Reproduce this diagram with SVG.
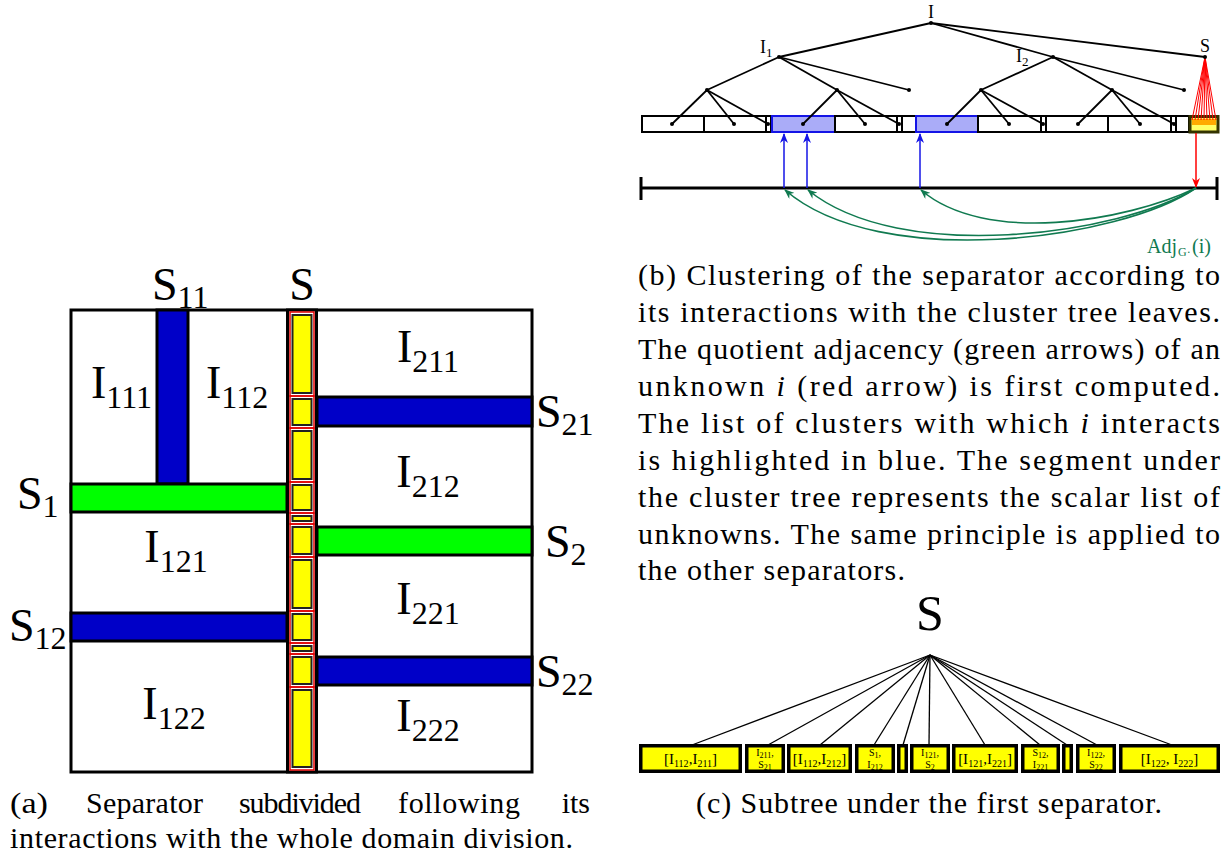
<svg xmlns="http://www.w3.org/2000/svg" width="1228" height="860" viewBox="0 0 1228 860">
<defs>
<style>
text{font-family:"Liberation Serif","Times New Roman",serif;fill:#000}
.big{font-size:46px}
.sub{font-size:32px}
.cap{font-size:30px}
.t{font-size:18px}
.ts{font-size:13px}
.e{stroke:#000;stroke-width:1.8;fill:none}
.leaf{fill:#fff;stroke:#000;stroke-width:2}
.bl{fill:#aaacf8;stroke:#1414e6;stroke-width:2}
.blue{fill:#0000c8;stroke:#000;stroke-width:3}
.green{fill:#00ff00;stroke:#000;stroke-width:3}
.seg{fill:none;stroke:#e00000;stroke-width:1.5}
.yl{fill:#ffff00;stroke:#222;stroke-width:2}
.cb{fill:#ffff00;stroke:#000;stroke-width:3.5}
.ct{font-size:15px}
.cts{font-size:10px}
.cs{font-size:10px}
.css{font-size:8px}
.gr{fill:none;stroke:#107a50;stroke-width:1.6}
.fan{stroke:#000;stroke-width:1.3}
.red{stroke:#ff0000;stroke-width:1}
.adj{fill:#107a50}
</style>
<marker id="mb" viewBox="0 0 10 8" refX="9" refY="4" markerWidth="10" markerHeight="8" markerUnits="userSpaceOnUse" orient="auto"><path d="M0,0 L10,4 L0,8 L3,4 z" fill="#1414e6"/></marker>
<marker id="mr" viewBox="0 0 10 8" refX="9" refY="4" markerWidth="10" markerHeight="8" markerUnits="userSpaceOnUse" orient="auto"><path d="M0,0 L10,4 L0,8 L3,4 z" fill="#ff0000"/></marker>
<marker id="mg" viewBox="0 0 10 8" refX="9" refY="4" markerWidth="10" markerHeight="8" markerUnits="userSpaceOnUse" orient="auto"><path d="M0,0 L10,4 L0,8 L3,4 z" fill="#107a50"/></marker>
</defs>
<rect width="1228" height="860" fill="#fff"/>

<!-- (a) domain division -->
<g id="domain">
<rect x="71" y="310" width="461" height="462" fill="#fff" stroke="#000" stroke-width="3"/>
<rect id="S11" class="blue" x="157" y="310" width="31" height="174"/>
<rect id="S1" class="green" x="71" y="484" width="216" height="28"/>
<rect id="S12" class="blue" x="71" y="613" width="216" height="28"/>
<rect id="S21" class="blue" x="317" y="397" width="215" height="29"/>
<rect id="S2" class="green" x="317" y="527" width="215" height="28"/>
<rect id="S22" class="blue" x="317" y="657" width="215" height="28"/>
</g>
<g id="separatorS">
<rect x="287.5" y="310" width="29" height="462" fill="#fff" stroke="#000" stroke-width="3"/>
<rect class="seg" x="290" y="312" width="24" height="84"/><rect class="yl" x="292.5" y="315" width="19" height="78"/>
<rect class="seg" x="290" y="396" width="24" height="32"/><rect class="yl" x="292.5" y="399" width="19" height="26"/>
<rect class="seg" x="290" y="428" width="24" height="54"/><rect class="yl" x="292.5" y="431" width="19" height="48"/>
<rect class="seg" x="290" y="482" width="24" height="31"/><rect class="yl" x="292.5" y="485" width="19" height="25"/>
<rect class="seg" x="290" y="513" width="24" height="11"/><rect class="yl" x="292.5" y="516" width="19" height="5"/>
<rect class="seg" x="290" y="524" width="24" height="33"/><rect class="yl" x="292.5" y="527" width="19" height="27"/>
<rect class="seg" x="290" y="557" width="24" height="54"/><rect class="yl" x="292.5" y="560" width="19" height="48"/>
<rect class="seg" x="290" y="611" width="24" height="32"/><rect class="yl" x="292.5" y="614" width="19" height="26"/>
<rect class="seg" x="290" y="643" width="24" height="11"/><rect class="yl" x="292.5" y="646" width="19" height="5"/>
<rect class="seg" x="290" y="654" width="24" height="33"/><rect class="yl" x="292.5" y="657" width="19" height="27"/>
<rect class="seg" x="290" y="687" width="24" height="83"/><rect class="yl" x="292.5" y="690" width="19" height="77"/>
</g>
<g id="labelsA">
<text class="big" x="152" y="300">S<tspan class="sub" dy="8">11</tspan></text>
<text class="big" x="302" y="300" text-anchor="middle">S</text>
<text class="big" x="91" y="398">I<tspan class="sub" dy="10">111</tspan></text>
<text class="big" x="206" y="398">I<tspan class="sub" dy="10">112</tspan></text>
<text class="big" x="428" y="362" text-anchor="middle">I<tspan class="sub" dy="10">211</tspan></text>
<text class="big" x="428" y="487" text-anchor="middle">I<tspan class="sub" dy="10">212</tspan></text>
<text class="big" x="176" y="562" text-anchor="middle">I<tspan class="sub" dy="10">121</tspan></text>
<text class="big" x="428" y="614" text-anchor="middle">I<tspan class="sub" dy="10">221</tspan></text>
<text class="big" x="174" y="719" text-anchor="middle">I<tspan class="sub" dy="10">122</tspan></text>
<text class="big" x="428" y="731" text-anchor="middle">I<tspan class="sub" dy="10">222</tspan></text>
<text class="big" x="536" y="427">S<tspan class="sub" dy="8">21</tspan></text>
<text class="big" x="545" y="557">S<tspan class="sub" dy="8">2</tspan></text>
<text class="big" x="536" y="687">S<tspan class="sub" dy="8">22</tspan></text>
<text class="big" x="17" y="509">S<tspan class="sub" dy="8">1</tspan></text>
<text class="big" x="9" y="641">S<tspan class="sub" dy="8">12</tspan></text>
</g>
<g id="captionA">
<text class="cap" x="10" y="813" textLength="38" lengthAdjust="spacingAndGlyphs">(a)</text>
<text class="cap" x="86" y="813" textLength="117" lengthAdjust="spacing">Separator</text>
<text class="cap" x="239" y="813" textLength="122" lengthAdjust="spacing">subdivided</text>
<text class="cap" x="398" y="813" textLength="122" lengthAdjust="spacing">following</text>
<text class="cap" x="590" y="813" text-anchor="end">its</text>
<text class="cap" x="10" y="848" textLength="563" lengthAdjust="spacing">interactions with the whole domain division.</text>
</g>

<!-- (b) cluster tree -->
<g id="treeEdges">
<line class="e" x1="931" y1="23" x2="779" y2="57"/>
<line class="e" x1="931" y1="23" x2="1053" y2="57"/>
<line class="e" x1="931" y1="23" x2="1205" y2="57"/>
<line class="e" x1="779" y1="57" x2="707" y2="90"/>
<line class="e" x1="779" y1="57" x2="837" y2="90"/>
<line class="e" x1="779" y1="57" x2="909" y2="90"/>
<line class="e" x1="1053" y1="57" x2="981" y2="90"/>
<line class="e" x1="1053" y1="57" x2="1112" y2="90"/>
<line class="e" x1="1053" y1="57" x2="1184" y2="90"/>
</g>
<g id="leafBar">
<rect class="leaf" x="642" y="116" width="62" height="16"/>
<rect class="leaf" x="704" y="116" width="62" height="16"/>
<rect class="leaf" x="766" y="116" width="5" height="16"/>
<rect class="bl" x="772" y="116" width="63" height="16"/>
<rect class="leaf" x="835" y="116" width="62" height="16"/>
<rect class="leaf" x="897" y="116" width="5" height="16"/>
<rect class="leaf" x="902" y="116" width="14" height="16"/>
<rect class="bl" x="916" y="116" width="62" height="16"/>
<rect class="leaf" x="978" y="116" width="63" height="16"/>
<rect class="leaf" x="1041" y="116" width="5" height="16"/>
<rect class="leaf" x="1046" y="116" width="62" height="16"/>
<rect class="leaf" x="1108" y="116" width="63" height="16"/>
<rect class="leaf" x="1171" y="116" width="5" height="16"/>
<rect class="leaf" x="1176" y="116" width="13" height="16"/>
<rect x="1190" y="116.5" width="28" height="15.5" fill="#ffff66" stroke="#333300" stroke-width="3"/>
<rect x="1192" y="119" width="24" height="6" fill="#ffaa00"/>
</g>
<g id="treeLeafEdges">
<line class="e" x1="707" y1="90" x2="672" y2="124"/>
<line class="e" x1="707" y1="90" x2="734" y2="124"/>
<line class="e" x1="707" y1="90" x2="768" y2="124"/>
<line class="e" x1="837" y1="90" x2="803" y2="124"/>
<line class="e" x1="837" y1="90" x2="865" y2="124"/>
<line class="e" x1="837" y1="90" x2="899" y2="124"/>
<line class="e" x1="981" y1="90" x2="947" y2="124"/>
<line class="e" x1="981" y1="90" x2="1009" y2="124"/>
<line class="e" x1="981" y1="90" x2="1043" y2="124"/>
<line class="e" x1="1112" y1="90" x2="1078" y2="124"/>
<line class="e" x1="1112" y1="90" x2="1140" y2="124"/>
<line class="e" x1="1112" y1="90" x2="1174" y2="124"/>
<line class="red" x1="1205" y1="57" x2="1192" y2="120"/>
<line class="red" x1="1205" y1="57" x2="1195" y2="120"/>
<line class="red" x1="1205" y1="57" x2="1198" y2="120"/>
<line class="red" x1="1205" y1="57" x2="1201" y2="120"/>
<line class="red" x1="1205" y1="57" x2="1204" y2="120"/>
<line class="red" x1="1205" y1="57" x2="1207" y2="120"/>
<line class="red" x1="1205" y1="57" x2="1210" y2="120"/>
<line class="red" x1="1205" y1="57" x2="1213" y2="120"/>
<line class="red" x1="1205" y1="57" x2="1216" y2="120"/>
</g>
<g id="treeNodes" fill="#000">
<circle cx="931" cy="23" r="2"/><circle cx="779" cy="57" r="2"/><circle cx="1053" cy="57" r="2"/><circle cx="1205" cy="57" r="2"/>
<circle cx="707" cy="90" r="2"/><circle cx="837" cy="90" r="2"/><circle cx="909" cy="90" r="2"/>
<circle cx="981" cy="90" r="2"/><circle cx="1112" cy="90" r="2"/><circle cx="1184" cy="90" r="2"/>
<circle cx="672" cy="124" r="2"/><circle cx="734" cy="124" r="2"/><circle cx="768" cy="124" r="2"/>
<circle cx="803" cy="124" r="2"/><circle cx="865" cy="124" r="2"/><circle cx="899" cy="124" r="2"/>
<circle cx="947" cy="124" r="2"/><circle cx="1009" cy="124" r="2"/><circle cx="1043" cy="124" r="2"/>
<circle cx="1078" cy="124" r="2"/><circle cx="1140" cy="124" r="2"/><circle cx="1174" cy="124" r="2"/>
</g>
<g id="treeLabels">
<text class="t" x="931" y="18" text-anchor="middle">I</text>
<text class="t" x="760" y="53">I<tspan class="ts" dy="4">1</tspan></text>
<text class="t" x="1016" y="62">I<tspan class="ts" dy="4">2</tspan></text>
<text class="t" x="1205" y="52" text-anchor="middle">S</text>
</g>
<g id="segment">
<line x1="641" y1="188" x2="1217" y2="188" stroke="#000" stroke-width="3"/>
<line x1="641" y1="177" x2="641" y2="200" stroke="#000" stroke-width="3"/>
<line x1="1217" y1="177" x2="1217" y2="200" stroke="#000" stroke-width="3"/>
</g>
<g id="connectors">
<line x1="784" y1="188" x2="784" y2="134" stroke="#1414e6" stroke-width="1.5" marker-end="url(#mb)"/>
<line x1="807" y1="188" x2="807" y2="134" stroke="#1414e6" stroke-width="1.5" marker-end="url(#mb)"/>
<line x1="920" y1="188" x2="920" y2="134" stroke="#1414e6" stroke-width="1.5" marker-end="url(#mb)"/>
<line x1="1196" y1="133" x2="1196" y2="187" stroke="#ff0000" stroke-width="1.5" marker-end="url(#mr)"/>
<path class="gr" d="M1196,188 C1125,222 985,245 921,190" marker-end="url(#mg)"/>
<path class="gr" d="M1196,188 C1120,235 900,265 808,190" marker-end="url(#mg)"/>
<path class="gr" d="M1196,188 C1120,240 880,272 785,190" marker-end="url(#mg)"/>
</g>
<g id="adjLabel">
<text class="adj" x="1147" y="253" font-size="20">Adj</text>
<text class="adj" x="1178" y="255.5" font-size="12">G·</text>
<text class="adj" x="1192" y="253" font-size="20">(i)</text>
</g>
<g id="captionB">
<text class="cap" x="638" y="285" textLength="582" lengthAdjust="spacing">(b) Clustering of the separator according to</text>
<text class="cap" x="638" y="322" textLength="582" lengthAdjust="spacing">its interactions with the cluster tree leaves.</text>
<text class="cap" x="638" y="359" textLength="582" lengthAdjust="spacing">The quotient adjacency (green arrows) of an</text>
<text class="cap" x="638" y="396" textLength="582" lengthAdjust="spacing">unknown <tspan font-style="italic">i</tspan> (red arrow) is first computed.</text>
<text class="cap" x="638" y="433" textLength="582" lengthAdjust="spacing">The list of clusters with which <tspan font-style="italic">i</tspan> interacts</text>
<text class="cap" x="638" y="470" textLength="582" lengthAdjust="spacing">is highlighted in blue.  The segment under</text>
<text class="cap" x="638" y="507" textLength="582" lengthAdjust="spacing">the cluster tree represents the scalar list of</text>
<text class="cap" x="638" y="544" textLength="582" lengthAdjust="spacing">unknowns.  The same principle is applied to</text>
<text class="cap" x="638" y="580" textLength="267" lengthAdjust="spacing">the other separators.</text>
</g>

<!-- (c) subtree -->
<text x="930" y="630" font-size="50" text-anchor="middle">S</text>
<g id="subtreeEdges">
<line class="fan" x1="930" y1="655" x2="692" y2="745"/>
<line class="fan" x1="930" y1="655" x2="768" y2="745"/>
<line class="fan" x1="930" y1="655" x2="820" y2="745"/>
<line class="fan" x1="930" y1="655" x2="874" y2="745"/>
<line class="fan" x1="930" y1="655" x2="903" y2="745"/>
<line class="fan" x1="930" y1="655" x2="929" y2="745"/>
<line class="fan" x1="930" y1="655" x2="985" y2="745"/>
<line class="fan" x1="930" y1="655" x2="1040" y2="745"/>
<line class="fan" x1="930" y1="655" x2="1067" y2="745"/>
<line class="fan" x1="930" y1="655" x2="1097" y2="745"/>
<line class="fan" x1="930" y1="655" x2="1172" y2="745"/>
</g>
<g id="b1"><rect class="cb" x="640.75" y="745.75" width="99.5" height="25.5"/><text class="ct" x="690.5" y="764" text-anchor="middle">[I<tspan class="cts" dy="3">112</tspan><tspan dy="-3">,I</tspan><tspan class="cts" dy="3">211</tspan><tspan dy="-3">]</tspan></text></g>
<g id="b2"><rect class="cb" x="746.75" y="745.75" width="36.5" height="25.5"/><text class="cs" x="765" y="756" text-anchor="middle">I<tspan class="css" dy="1.5">211</tspan><tspan dy="-1.5">,</tspan></text><text class="cs" x="765" y="768" text-anchor="middle">S<tspan class="css" dy="1.5">21</tspan></text></g>
<g id="b3"><rect class="cb" x="788.75" y="745.75" width="61.5" height="25.5"/><text class="ct" x="819.5" y="764" text-anchor="middle">[I<tspan class="cts" dy="3">112</tspan><tspan dy="-3">,I</tspan><tspan class="cts" dy="3">212</tspan><tspan dy="-3">]</tspan></text></g>
<g id="b4"><rect class="cb" x="856.75" y="745.75" width="36.5" height="25.5"/><text class="cs" x="875" y="756" text-anchor="middle">S<tspan class="css" dy="1.5">1</tspan><tspan dy="-1.5">,</tspan></text><text class="cs" x="875" y="768" text-anchor="middle">I<tspan class="css" dy="1.5">212</tspan></text></g>
<g id="b5"><rect class="cb" x="898.75" y="745.75" width="7.5" height="25.5"/></g>
<g id="b6"><rect class="cb" x="911.75" y="745.75" width="36.5" height="25.5"/><text class="cs" x="930" y="756" text-anchor="middle">I<tspan class="css" dy="1.5">121</tspan><tspan dy="-1.5">,</tspan></text><text class="cs" x="930" y="768" text-anchor="middle">S<tspan class="css" dy="1.5">2</tspan></text></g>
<g id="b7"><rect class="cb" x="953.75" y="745.75" width="62.5" height="25.5"/><text class="ct" x="985" y="764" text-anchor="middle">[I<tspan class="cts" dy="3">121</tspan><tspan dy="-3">,I</tspan><tspan class="cts" dy="3">221</tspan><tspan dy="-3">]</tspan></text></g>
<g id="b8"><rect class="cb" x="1022.75" y="745.75" width="35.5" height="25.5"/><text class="cs" x="1040.5" y="756" text-anchor="middle">S<tspan class="css" dy="1.5">12</tspan><tspan dy="-1.5">,</tspan></text><text class="cs" x="1040.5" y="768" text-anchor="middle">I<tspan class="css" dy="1.5">221</tspan></text></g>
<g id="b9"><rect class="cb" x="1063.75" y="745.75" width="7.5" height="25.5"/></g>
<g id="b10"><rect class="cb" x="1077.75" y="745.75" width="36.5" height="25.5"/><text class="cs" x="1096" y="756" text-anchor="middle">I<tspan class="css" dy="1.5">122</tspan><tspan dy="-1.5">,</tspan></text><text class="cs" x="1096" y="768" text-anchor="middle">S<tspan class="css" dy="1.5">22</tspan></text></g>
<g id="b11"><rect class="cb" x="1120.75" y="745.75" width="97.5" height="25.5"/><text class="ct" x="1169.5" y="764" text-anchor="middle">[I<tspan class="cts" dy="3">122</tspan><tspan dy="-3">, I</tspan><tspan class="cts" dy="3">222</tspan><tspan dy="-3">]</tspan></text></g>
<text class="cap" x="696" y="813" textLength="466" lengthAdjust="spacing">(c) Subtree under the first separator.</text>
</svg>
